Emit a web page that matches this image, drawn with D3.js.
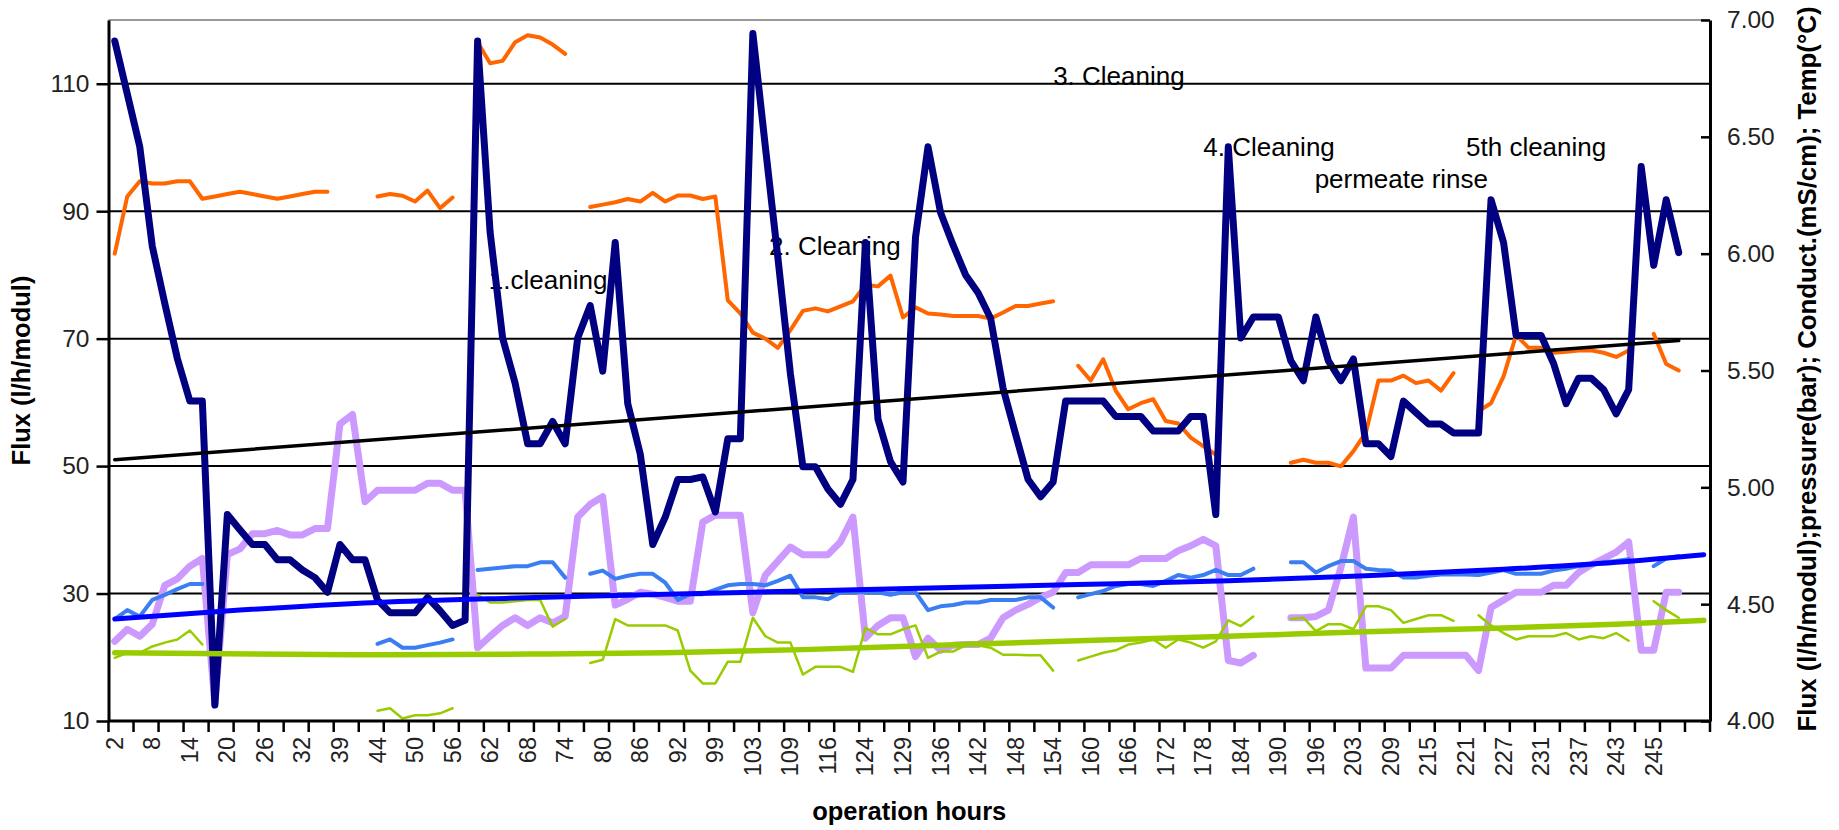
<!DOCTYPE html>
<html><head><meta charset="utf-8">
<script src="https://cdn.jsdelivr.net/npm/d3@7"></script>
<style>
html,body{margin:0;padding:0;background:#fff;}
svg{display:block;font-family:"Liberation Sans",Arial,Helvetica,sans-serif;}
</style></head><body>
<svg id="chart" width="1839" height="830"></svg>
<script>
// ---------- DATA ----------
const categories = d3.range(128); // category slots on the x axis
const hourLabels = [2,8,14,20,26,32,39,44,50,56,62,68,74,80,86,92,99,103,109,116,124,129,136,142,148,154,160,166,172,178,184,190,196,203,209,215,221,227,231,237,243,245];
const leftTicks = [10,30,50,70,90,110];
const rightTicks = [4,4.5,5,5.5,6,6.5,7];

// Flux (l/h/modul) - navy, left axis
const flux = [116.7,108.4,100.1,84.5,75.5,66.9,60.2,60.2,12.5,42.4,
40.0,37.7,37.7,35.3,35.3,33.7,32.5,30.2,37.7,35.3,
35.3,29.0,27.0,27.0,27.0,29.4,27.3,25.0,25.8,116.7,
86.7,70.1,63.0,53.5,53.5,57.0,53.5,70.1,75.2,64.9,
85.1,59.8,51.9,37.7,42.0,47.9,47.9,48.3,42.8,54.3,
54.3,117.9,100.1,82.7,64.5,49.9,49.9,46.4,44.0,47.9,
85.1,57.4,50.7,47.5,85.9,100.1,89.8,84.7,80.0,77.2,
73.2,62.2,55.0,47.9,45.2,47.5,60.2,60.2,60.2,60.2,
57.8,57.8,57.8,55.5,55.5,55.5,57.8,57.8,42.4,100.1,
70.1,73.4,73.4,73.4,66.5,63.4,73.4,66.5,63.4,66.8,
53.5,53.5,51.5,60.2,58.4,56.6,56.6,55.2,55.2,55.2,
91.8,85.1,70.5,70.5,70.5,66.1,59.8,63.8,63.8,62.0,
58.2,62.0,97.0,81.5,91.8,83.5];

// Conductivity (mS/cm) - orange, right axis
const conduct = [6.00,6.245,6.31,6.30,6.30,6.31,6.31,6.235,6.245,6.255,
6.265,6.255,6.245,6.235,6.245,6.255,6.265,6.265,null,null,
null,6.245,6.255,6.248,6.223,6.27,6.195,6.24,null,6.905,
6.815,6.825,6.905,6.935,6.925,6.895,6.855,null,6.20,6.21,
6.22,6.234,6.223,6.26,6.223,6.249,6.249,6.234,6.245,5.80,
5.744,5.662,5.636,5.597,5.673,5.755,5.766,5.753,5.774,5.796,
5.867,5.86,5.906,5.727,5.77,5.744,5.74,5.733,5.733,5.733,
5.722,5.748,5.776,5.776,5.787,5.796,null,5.52,5.457,5.548,
5.414,5.334,5.36,5.377,5.284,5.273,5.213,5.176,5.14,null,
null,null,null,null,5.105,5.118,5.105,5.105,5.09,5.155,
5.235,5.457,5.457,5.478,5.446,5.457,5.414,5.489,null,5.327,
5.36,5.475,5.651,5.597,5.597,5.576,5.58,5.586,5.586,5.576,
5.558,5.586,null,5.657,5.528,5.50];

// Temperature - lavender, left axis
const temp = [22.5,24.4,23.3,25.2,31.3,32.3,34.3,35.5,12.8,36.1,
37.0,39.4,39.4,39.9,39.2,39.2,40.2,40.2,56.6,58.1,
44.4,46.2,46.2,46.2,46.2,47.3,47.3,46.2,46.2,21.5,
23.3,25.0,26.2,25.0,26.2,25.4,26.4,42.0,44.0,45.2,
28.2,29.1,30.2,29.9,29.4,28.8,28.8,41.2,42.3,42.3,
42.3,27.0,32.9,35.1,37.3,36.1,36.1,36.1,38.1,42.0,
23.0,25.0,26.2,26.2,20.1,23.0,21.1,21.9,22.0,22.0,
23.0,26.2,27.4,28.3,29.4,30.2,33.3,33.3,34.5,34.5,
34.5,34.5,35.5,35.5,35.5,36.7,37.5,38.5,37.5,19.5,
19.1,20.3,null,null,26.2,26.2,26.4,27.4,34.1,42.0,
18.3,18.3,18.3,20.3,20.3,20.3,20.3,20.3,20.3,17.9,
27.8,29.0,30.2,30.2,30.2,31.3,31.3,33.3,34.5,35.5,
36.5,38.1,21.1,21.1,30.2,30.2];

// Pressure - medium blue, left axis
const pressure = [26.0,27.4,26.4,29.0,29.8,30.7,31.5,31.5,null,null,
null,null,null,null,null,null,null,null,null,null,
null,22.1,22.8,21.5,21.5,21.9,22.3,22.8,null,33.7,
33.9,34.1,34.3,34.3,34.9,34.9,32.5,null,33.1,33.6,
32.3,32.8,33.1,33.1,31.7,29.0,29.9,29.9,30.6,31.3,
31.5,31.5,31.3,32.0,32.8,29.4,29.4,29.1,30.2,30.2,
30.2,30.2,29.8,30.2,30.2,27.4,28.0,28.2,28.6,28.6,
29.0,29.0,29.0,29.4,29.4,27.8,null,29.4,29.9,30.4,
31.2,31.5,31.5,31.2,32.0,32.9,32.5,32.9,33.7,32.9,
32.9,33.9,null,null,34.9,34.9,33.3,34.3,35.1,35.1,
33.9,33.7,33.6,32.5,32.5,32.8,33.0,33.0,33.0,32.9,
33.3,33.7,33.1,33.1,33.1,33.6,33.9,34.3,34.5,34.9,
35.1,35.4,null,34.3,35.5,35.9];

// Second parameter - yellow green thin, left axis
const param2 = [19.9,20.7,20.7,21.7,22.3,22.8,24.2,22.0,null,null,
null,null,null,null,null,null,null,null,null,null,
null,11.6,12.0,10.4,10.9,10.9,11.2,12.0,null,29.8,
28.6,28.6,28.8,29.0,29.0,24.8,26.0,null,19.1,19.6,
26.0,25.0,25.0,25.0,25.0,24.2,17.9,15.9,15.9,19.3,
19.3,26.2,23.3,22.3,22.3,17.3,18.5,18.5,18.5,17.7,
24.6,23.6,23.6,24.4,25.0,19.9,20.9,20.9,21.9,21.9,
21.5,20.4,20.4,20.3,20.3,17.9,null,19.5,20.1,20.7,
21.1,22.0,22.3,22.8,21.5,22.8,22.3,21.5,22.5,25.8,
24.9,26.4,null,null,26.0,26.2,24.1,25.2,25.2,24.4,
28.0,28.0,27.4,25.4,26.0,26.6,26.6,25.7,null,26.6,
25.0,23.8,22.8,23.3,23.3,23.3,23.8,22.8,23.3,23.0,
23.8,22.6,null,28.8,27.4,26.2];

// Trend lines: [category index, value]
const fluxTrend = [[0,51.0],[125,69.7]];
const pressureTrend = [[0,26.0],[10,27.4],[21,28.6],[32,29.3],[44,29.9],[55,30.4],[66,30.9],[77,31.4],[89,32.0],[100,32.8],[111,33.8],[120,34.9],[127,36.1]];
const param2Trend = [[0,20.7],[11,20.5],[22,20.4],[33,20.5],[44,20.7],[55,21.2],[66,21.9],[77,22.6],[89,23.3],[100,24.0],[111,24.6],[120,25.2],[127,25.8]];

const annotations = [
  {text:"1.cleaning", cat:30.4, v:77.8},
  {text:"2. Cleaning", cat:52.8, v:83.2},
  {text:"3. Cleaning", cat:75.5, v:109.8},
  {text:"4. Cleaning", cat:87.5, v:98.6},
  {text:"permeate rinse", cat:96.4, v:93.7},
  {text:"5th cleaning", cat:108.5, v:98.6}
];

// ---------- LAYOUT ----------
const P = {left:108.5, right:1710, top:20, bottom:721};
const svg = d3.select("#chart");
const x = d3.scaleBand().domain(categories).range([P.left, P.right]).padding(0);
const cx = i => x(Math.floor(i)) + x.bandwidth()*(0.5 + (i - Math.floor(i)));
const yL = d3.scaleLinear().domain([10,120]).range([P.bottom, P.top]);
const yR = d3.scaleLinear().domain([4,7]).range([P.bottom, P.top]);

// gridlines
svg.append("g").selectAll("line").data(leftTicks.filter(d=>d>10)).join("line")
  .attr("x1",P.left).attr("x2",P.right).attr("y1",d=>yL(d)).attr("y2",d=>yL(d))
  .attr("stroke","#000").attr("stroke-width",2);
// top border
svg.append("line").attr("x1",P.left).attr("x2",P.right).attr("y1",yL(120)).attr("y2",yL(120))
  .attr("stroke","#9a9a9a").attr("stroke-width",2);

// annotations (beneath the lines)
svg.append("g").selectAll("text").data(annotations).join("text")
  .attr("x",d=>x(0)+ (d.cat)*x.bandwidth()).attr("y",d=>yL(d.v))
  .attr("font-size",26).attr("fill","#000").text(d=>d.text);

// series
function drawSeries(data, y, color, width){
  const line = d3.line().defined(d=>d!=null).x((d,i)=>cx(i)).y(d=>y(d));
  svg.append("path").datum(data).attr("d",line).attr("fill","none")
    .attr("stroke",color).attr("stroke-width",width)
    .attr("stroke-linejoin","round").attr("stroke-linecap","round");
}
drawSeries(temp, yL, "#cc99ff", 7);
drawSeries(pressure, yL, "#3a7ef2", 4);
drawSeries(param2, yL, "#99cc00", 2.5);
drawSeries(conduct, yR, "#ff6600", 4);
drawSeries(flux, yL, "#000080", 7);

function drawTrend(pts, color, width, curve){
  const line = d3.line().x(d=>cx(d[0])).y(d=>yL(d[1])).curve(curve);
  svg.append("path").datum(pts).attr("d",line).attr("fill","none")
    .attr("stroke",color).attr("stroke-width",width).attr("stroke-linecap","round");
}
drawTrend(param2Trend, "#99cc00", 5.5, d3.curveMonotoneX);
drawTrend(pressureTrend, "#0000ff", 5, d3.curveMonotoneX);
drawTrend(fluxTrend, "#000", 3.5, d3.curveLinear);

// left axis
const gL = svg.append("g").attr("transform",`translate(${P.left},0)`)
  .call(d3.axisLeft(yL).tickValues(leftTicks).tickSize(12).tickSizeOuter(0).tickPadding(7).tickFormat(d3.format("d")));
gL.select(".domain").attr("stroke","#000").attr("stroke-width",3);
gL.selectAll(".tick line").attr("stroke","#000").attr("stroke-width",2.5);
gL.selectAll(".tick text").attr("font-size",24.5).attr("font-family","Liberation Sans, Arial, sans-serif").attr("fill","#222");

// right axis
const gR = svg.append("g").attr("transform",`translate(${P.right},0)`)
  .call(d3.axisRight(yR).tickValues(rightTicks).tickSize(-9).tickSizeOuter(0).tickPadding(17).tickFormat(d3.format(".2f")));
gR.select(".domain").attr("stroke","#000").attr("stroke-width",3);
gR.selectAll(".tick line").attr("stroke","#000").attr("stroke-width",2.5);
gR.selectAll(".tick text").attr("font-size",24.5).attr("font-family","Liberation Sans, Arial, sans-serif").attr("fill","#222");

// bottom axis
const gB = svg.append("g");
gB.append("line").attr("x1",P.left).attr("x2",P.right).attr("y1",P.bottom).attr("y2",P.bottom)
  .attr("stroke","#000").attr("stroke-width",3);
const tickXs = categories.filter(i=>i%2===0).map(i=>x(i)).concat([x.range()[1]]);
gB.selectAll("line.tk").data(tickXs).join("line").attr("class","tk")
  .attr("x1",d=>d).attr("x2",d=>d).attr("y1",P.bottom).attr("y2",P.bottom+11)
  .attr("stroke","#000").attr("stroke-width",2.5);
gB.selectAll("text").data(hourLabels).join("text")
  .attr("transform",(d,k)=>`translate(${cx(3*k)},737) rotate(-90)`)
  .attr("text-anchor","end").attr("dominant-baseline","central")
  .attr("font-size",23.5).attr("fill","#222").text(d=>d);

// axis titles
svg.append("text").attr("x",(P.left+P.right)/2).attr("y",820).attr("text-anchor","middle")
  .attr("font-size",25.5).attr("font-weight","bold").text("operation hours");
svg.append("text").attr("transform",`translate(21,${(P.top+P.bottom)/2}) rotate(-90)`)
  .attr("text-anchor","middle").attr("dominant-baseline","central")
  .attr("font-size",25.5).attr("font-weight","bold").text("Flux (l/h/modul)");
svg.append("text").attr("transform",`translate(1807,369) rotate(-90)`)
  .attr("text-anchor","middle").attr("dominant-baseline","central")
  .attr("font-size",25.8).attr("font-weight","bold").text("Flux (l/h/modul);pressure(bar); Conduct.(mS/cm); Temp(°C)");
</script>
</body></html>
